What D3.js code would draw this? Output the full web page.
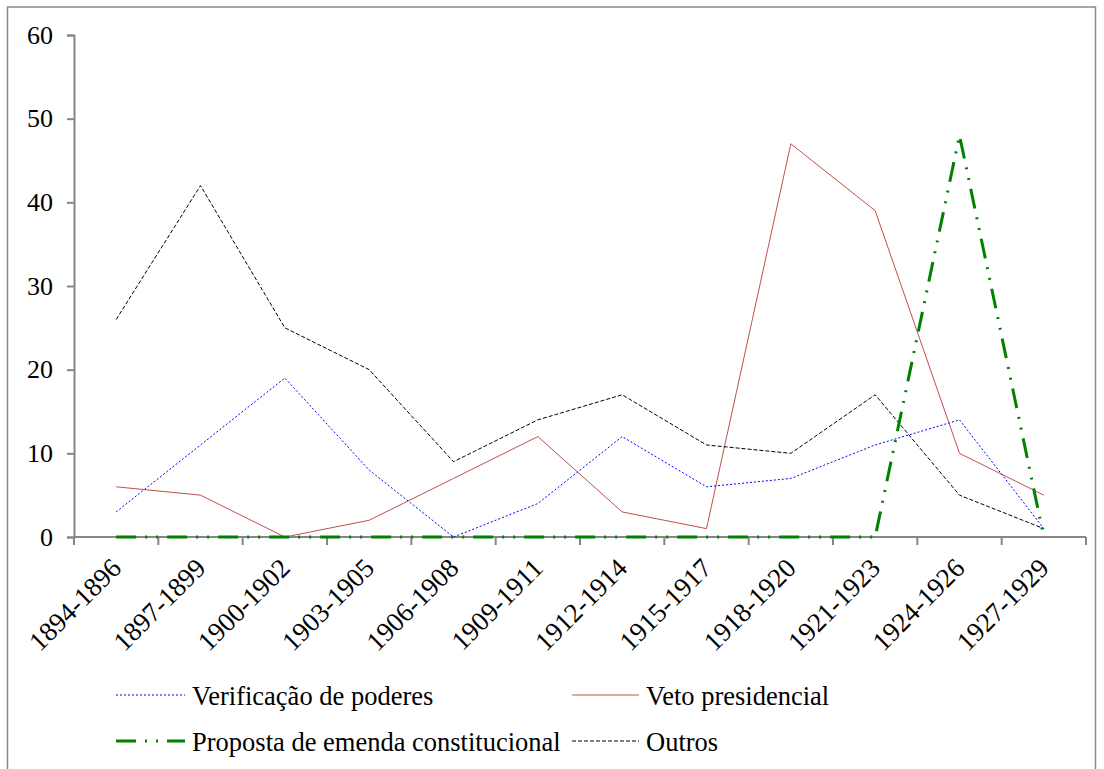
<!DOCTYPE html>
<html>
<head>
<meta charset="utf-8">
<script src="https://cdn.jsdelivr.net/npm/d3@7"></script>
</head>
<body style="margin:0; background:#fff">
<div id="chart"></div>
<script>
// periods on the x axis
var periods = ["1894-1896", "1897-1899", "1900-1902", "1903-1905", "1906-1908", "1909-1911",
               "1912-1914", "1915-1917", "1918-1920", "1921-1923", "1924-1926", "1927-1929"];

var verificacao = [3, 11, 19, 8, 0, 4, 12, 6, 7, 11, 14, 1];
var veto = [6, 5, 0, 2, 7, 12, 3, 1, 47, 39, 10, 5];
var proposta = [0, 0, 0, 0, 0, 0, 0, 0, 0, 0, 48, 0];
var outros = [26, 42, 25, 20, 9, 14, 17, 11, 10, 17, 5, 1];

var yTicks = [0, 10, 20, 30, 40, 50, 60];

var FONT = "Liberation Serif";
var width = 1104, height = 769;
var margin = {left: 74, right: 18, top: 35, bottom: 232};

var svg = d3.select("#chart").append("svg")
    .attr("width", width)
    .attr("height", height)
    .attr("font-family", FONT);

// outer frame
svg.append("rect")
    .attr("x", 7.5)
    .attr("y", 7)
    .attr("width", 1088)
    .attr("height", 770)
    .style("fill", "none")
    .style("stroke", "#898989")
    .style("stroke-width", "1.5px");

var x = d3.scaleBand()
    .domain(periods)
    .range([margin.left, width - margin.right]);

var y = d3.scaleLinear()
    .domain([0, 60])
    .range([height - margin.bottom, margin.top]);

// y axis
var yAxis = svg.append("g")
    .attr("transform", "translate(" + margin.left + ",0)")
    .call(d3.axisLeft(y).tickValues(yTicks).tickSize(7).tickPadding(14));
yAxis.attr("font-family", FONT).attr("font-size", 26);
yAxis.selectAll("path, line").style("stroke", "#868686").style("stroke-width", "2px");
yAxis.selectAll("text")
    .attr("font-family", FONT)
    .attr("font-size", 26)
    .attr("fill", "#000");

// x axis: ticks on band edges
var xAxis = svg.append("g")
    .attr("transform", "translate(0," + y(0) + ")");
xAxis.append("line")
    .attr("x1", margin.left)
    .attr("x2", width - margin.right)
    .style("stroke", "#868686")
    .style("stroke-width", "2px");
var edges = periods.map(function(p) { return x(p); }).concat([x(periods[periods.length - 1]) + x.bandwidth()]);
xAxis.selectAll(".tk")
    .data(edges)
    .enter().append("line")
    .attr("x1", function(d) { return d; })
    .attr("x2", function(d) { return d; })
    .attr("y1", 0)
    .attr("y2", 8)
    .style("stroke", "#868686")
    .style("stroke-width", "2px");
xAxis.selectAll(".lbl")
    .data(periods)
    .enter().append("text")
    .attr("transform", function(d) {
        return "translate(" + (x(d) + x.bandwidth() / 2) + ",26) rotate(-45)";
    })
    .attr("text-anchor", "end")
    .attr("dy", "0.35em")
    .attr("font-family", FONT)
    .attr("font-size", 27)
    .text(function(d) { return d; });

var line = d3.line()
    .x(function(d, i) { return x(periods[i]) + x.bandwidth() / 2; })
    .y(function(d) { return y(d); });

var series = [
    {name: "Verificação de poderes", values: verificacao, color: "#0000ff", width: 1, dash: "2,2"},
    {name: "Veto presidencial", values: veto, color: "#c0504d", width: 1, dash: null},
    {name: "Proposta de emenda constitucional", values: proposta, color: "#008000", width: 3, dash: "20,9,2,9,2,9"},
    {name: "Outros", values: outros, color: "#000000", width: 1, dash: "4,2"}
];

// green last, it sits on top along the axis
var order = [1, 0, 3, 2];
order.forEach(function(k) {
    var s = series[k];
    svg.append("path")
        .datum(s.values)
        .attr("d", line)
        .style("fill", "none")
        .style("stroke", s.color)
        .style("stroke-width", s.width + "px")
        .style("stroke-dasharray", s.dash);
});

// legend
var legendPos = [
    {x: 116, y: 695},
    {x: 572, y: 695},
    {x: 116, y: 741},
    {x: 572, y: 741}
];
series.forEach(function(s, i) {
    var p = legendPos[i];
    var len = i % 2 === 0 ? 69 : 67;
    svg.append("line")
        .attr("x1", p.x)
        .attr("x2", p.x + len)
        .attr("y1", p.y)
        .attr("y2", p.y)
        .style("stroke", s.color)
        .style("stroke-width", s.width + "px")
        .style("stroke-dasharray", s.dash);
    svg.append("text")
        .attr("x", p.x + len + 7)
        .attr("y", p.y + 1)
        .attr("dy", "0.35em")
        .attr("font-family", FONT)
        .attr("font-size", 26.5)
        .text(s.name);
});
</script>
</body>
</html>
